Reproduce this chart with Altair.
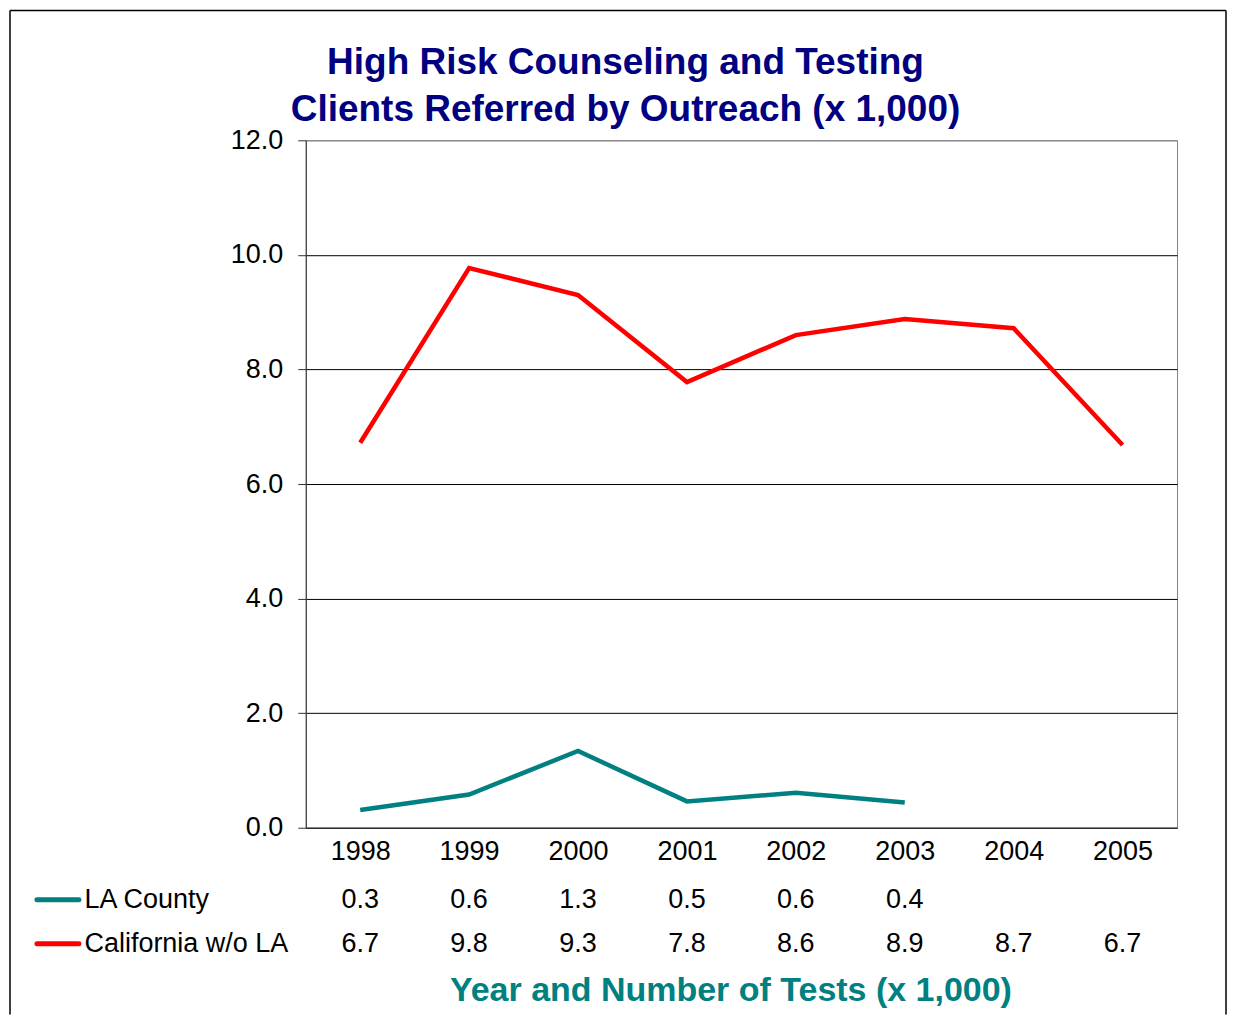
import altair as alt
import pandas as pd

years = ["1998", "1999", "2000", "2001", "2002", "2003", "2004", "2005"]
series_names = ["LA County", "California w/o LA"]
la_county = [0.31, 0.58, 1.34, 0.46, 0.61, 0.44]
california = [6.72, 9.77, 9.30, 7.78, 8.60, 8.88, 8.72, 6.68]
series_colors = ["#008080", "#FF0000"]
y_ticks = [0, 2, 4, 6, 8, 10, 12]
title_lines = ["High Risk Counseling and Testing", "Clients Referred by Outreach (x 1,000)"]
x_title = "Year and Number of Tests (x 1,000)"

rows = []
for yr, v in zip(years, la_county):
    rows.append({"year": yr, "series": series_names[0], "value": v})
for yr, v in zip(years, california):
    rows.append({"year": yr, "series": series_names[1], "value": v})
df = pd.DataFrame(rows)
legend_df = pd.DataFrame({"series": series_names})

FONT = "Liberation Sans"
W, H = 872, 688
TABLE_H = 88

x_scale = alt.Scale(type="point", domain=years, padding=0.5)
color_scale = alt.Scale(domain=series_names, range=series_colors)
row_scale = alt.Scale(type="point", domain=series_names, padding=0.5)

lines = alt.Chart(df).mark_line(strokeWidth=4.5).encode(
    x=alt.X("year:O", scale=x_scale, sort=years,
            axis=alt.Axis(title=None, labelFont=FONT, labelFontSize=27, labelColor="black",
                          labelPadding=11, ticks=False, domainColor="#333333", labelAngle=0,
                          grid=False)),
    y=alt.Y("value:Q", scale=alt.Scale(domain=[0, 12], nice=False),
            axis=alt.Axis(values=y_ticks, format=".1f", title=None, labelFont=FONT,
                          labelFontSize=27, labelColor="black", labelPadding=15, tickSize=8,
                          tickColor="#333333", domainColor="#333333",
                          gridColor={"condition": {"test": "datum.value === 12", "value": "#808080"},
                                     "value": "black"},
                          gridWidth=1)),
    color=alt.Color("series:N", scale=color_scale, legend=None),
)

top = lines.properties(
    width=W, height=H,
    view=alt.ViewBackground(stroke="#808080", strokeWidth=1),
    title=alt.TitleParams(text=title_lines, font=FONT, fontSize=37, fontWeight="bold",
                          color="#000080", lineHeight=47, anchor="middle", dx=-116, offset=-3),
)

table_text = alt.Chart(df).mark_text(font=FONT, fontSize=27, color="black", baseline="middle").encode(
    x=alt.X("year:O", scale=x_scale, sort=years,
            axis=alt.Axis(title=x_title, labels=False, ticks=False, domain=False, grid=False,
                          titleFont=FONT, titleFontSize=34, titleFontWeight="bold",
                          titleColor="#008080", titleX=425, titleY=35, titleAlign="center",
                          titleBaseline="alphabetic")),
    y=alt.Y("series:N", scale=row_scale, sort=series_names,
            axis=alt.Axis(title=None, labelAlign="left", labelPadding=222, labelLimit=0,
                          ticks=False, domain=False, grid=False, labelFont=FONT,
                          labelFontSize=27, labelColor="black", labelBaseline="middle")),
    text=alt.Text("value:Q", format=".1f"),
)

swatches = alt.Chart(legend_df).mark_rule(strokeWidth=5, strokeCap="round").encode(
    x=alt.value(-269), x2=alt.value(-227),
    y=alt.Y("series:N", scale=row_scale, sort=series_names),
    color=alt.Color("series:N", scale=color_scale, legend=None),
)

# outer picture frame (decoration around the whole figure)
frame_data = alt.Data(values=[{}])
frame_left = alt.Chart(frame_data).mark_rule(color="black", strokeWidth=1.5).encode(
    x=alt.value(-296), y=alt.value(-868), y2=alt.value(137))
frame_right = alt.Chart(frame_data).mark_rule(color="black", strokeWidth=1.5).encode(
    x=alt.value(921), y=alt.value(-868), y2=alt.value(137))
frame_top = alt.Chart(frame_data).mark_rule(color="black", strokeWidth=1.5).encode(
    x=alt.value(-296), x2=alt.value(921), y=alt.value(-868))

table = alt.layer(table_text, swatches, frame_left, frame_right, frame_top).properties(
    width=W, height=TABLE_H,
    view=alt.ViewBackground(stroke="transparent"),
)

chart = alt.vconcat(top, table, spacing=50, bounds="flush").properties(
    padding={"left": 0, "top": 0, "right": 0, "bottom": 0},
    background="white",
)

chart.save("out.html", embed_options={"renderer": "svg", "actions": False})
